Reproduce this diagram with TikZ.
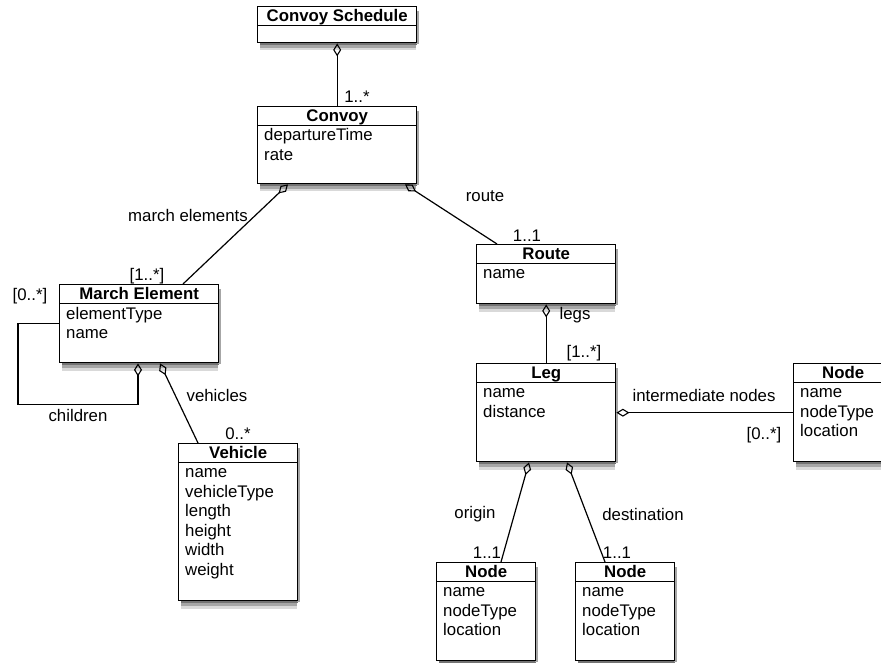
\documentclass[tikz,border=0pt]{standalone}
\usepackage{fontspec}
\setmainfont{Liberation Sans}
\usetikzlibrary{arrows.meta}
\definecolor{shadowdark}{gray}{0.45}
\definecolor{shadowmid}{gray}{0.65}
\definecolor{shadowlight}{gray}{0.85}

\begin{document}
\begin{tikzpicture}[x=1pt, y=-1pt, every node/.style={font=\fontsize{16.8}{19}\selectfont}]

        % Styles for classes and links
        \tikzstyle{classbox} = [draw, line width=1.4pt, fill=white, anchor=north west]
        \tikzstyle{classtitle} = [anchor=base, inner sep=0pt, font=\fontsize{16.8}{19}\selectfont\bfseries]
        \tikzstyle{attr} = [anchor=base west, inner sep=0pt]
        \tikzstyle{divider} = [line width=1.2pt]
        \tikzstyle{aggr} = [{Diamond[open, length=13pt, width=8pt, line width=1.1pt]}-, line width=1.2pt]
        \tikzstyle{lbl} = [inner sep=0pt]

        \useasboundingbox (0,0) rectangle (881,663);

        % Shadows behind the classes
        \foreach \bx/\by/\bw/\bh in {257/6/159/36, 257/106/159/77, 59/284/159/78, 178/443/119/157, 476/244/139/59, 476/363/139/98, 793/363/99/98, 436/562/99/98, 575/562/99/98} {
            \draw[shadowlight, line width=9pt] (\bx+3,\by+\bh+4) -- (\bx+\bw,\by+\bh+4);
            \draw[shadowmid, line width=6pt] (\bx+3,\by+\bh+3) -- (\bx+\bw,\by+\bh+3);
            \draw[shadowdark, line width=3pt] (\bx+3,\by+\bh+1.5) -- (\bx+\bw+1,\by+\bh+1.5);
            \draw[shadowmid, line width=3pt] (\bx+\bw+1.5,\by+5) -- (\bx+\bw+1.5,\by+\bh+2);
        }

        % Convoy Schedule
        \node[classbox, minimum width=159pt, minimum height=36pt] (sched) at (257,6) {};
        \node[classtitle] (sched-t) at ([yshift=-15.5pt]sched.north) {Convoy Schedule};
        \draw[divider] ([yshift=-19.5pt]sched.north west) -- ([yshift=-19.5pt]sched.north east);

        % Convoy
        \node[classbox, minimum width=159pt, minimum height=77pt] (convoy) at (257,106) {};
        \node[classtitle] (convoy-t) at ([yshift=-15.5pt]convoy.north) {Convoy};
        \draw[divider] ([yshift=-19.5pt]convoy.north west) -- ([yshift=-19.5pt]convoy.north east);
        \foreach \a [count=\i from 0] in {departureTime, rate}
            \node[attr] (convoy-\i) at ([xshift=7pt, yshift={-34.5pt-19.6pt*\i}]convoy.north west) {\a};

        % March Element
        \node[classbox, minimum width=159pt, minimum height=78pt] (march) at (59,284) {};
        \node[classtitle] (march-t) at ([yshift=-15.5pt]march.north) {March Element};
        \draw[divider] ([yshift=-19.5pt]march.north west) -- ([yshift=-19.5pt]march.north east);
        \foreach \a [count=\i from 0] in {elementType, name}
            \node[attr] (march-\i) at ([xshift=7pt, yshift={-35pt-19.6pt*\i}]march.north west) {\a};

        % Vehicle
        \node[classbox, minimum width=119pt, minimum height=157pt] (vehicle) at (178,443) {};
        \node[classtitle] (vehicle-t) at ([yshift=-15.5pt]vehicle.north) {Vehicle};
        \draw[divider] ([yshift=-19.5pt]vehicle.north west) -- ([yshift=-19.5pt]vehicle.north east);
        \foreach \a [count=\i from 0] in {name, vehicleType, length, height, width, weight}
            \node[attr] (vehicle-\i) at ([xshift=7pt, yshift={-34.5pt-19.6pt*\i}]vehicle.north west) {\a};

        % Route
        \node[classbox, minimum width=139pt, minimum height=59pt] (route) at (476,244) {};
        \node[classtitle] (route-t) at ([yshift=-15.5pt]route.north) {Route};
        \draw[divider] ([yshift=-19.5pt]route.north west) -- ([yshift=-19.5pt]route.north east);
        \node[attr] (route-0) at ([xshift=7pt, yshift=-35pt]route.north west) {name};

        % Leg
        \node[classbox, minimum width=139pt, minimum height=98pt] (leg) at (476,363) {};
        \node[classtitle] (leg-t) at ([yshift=-15.5pt]leg.north) {Leg};
        \draw[divider] ([yshift=-19.5pt]leg.north west) -- ([yshift=-19.5pt]leg.north east);
        \foreach \a [count=\i from 0] in {name, distance}
            \node[attr] (leg-\i) at ([xshift=7pt, yshift={-34.5pt-19.6pt*\i}]leg.north west) {\a};

        % Nodes
        \node[classbox, minimum width=99pt, minimum height=98pt] (nodeR) at (793,363) {};
        \node[classbox, minimum width=99pt, minimum height=98pt] (nodeO) at (436,562) {};
        \node[classbox, minimum width=99pt, minimum height=98pt] (nodeD) at (575,562) {};
        \foreach \n in {nodeR, nodeO, nodeD} {
            \node[classtitle] (\n-t) at ([yshift=-15.5pt]\n.north) {Node};
            \draw[divider] ([yshift=-19.5pt]\n.north west) -- ([yshift=-19.5pt]\n.north east);
            \foreach \a [count=\i from 0] in {name, nodeType, location}
                \node[attr] (\n-\i) at ([xshift=7pt, yshift={-34.5pt-19.6pt*\i}]\n.north west) {\a};
        }

        % Links
        \draw[aggr] (sched.south) -- (convoy.north);
        \draw[aggr] ([xshift=31pt]convoy.south west) -- ([xshift=124pt]march.north west);
        \draw[aggr] ([xshift=148pt]convoy.south west) -- ([xshift=21pt]route.north west);
        \draw[aggr] (route.south) -- (leg.north);
        \draw[aggr] (leg.east) -- (nodeR.west);
        \draw[aggr] ([xshift=53pt]leg.south west) -- ([xshift=65pt]nodeO.north west);
        \draw[aggr] ([xshift=91pt]leg.south west) -- ([xshift=30pt]nodeD.north west);
        \draw[aggr] ([xshift=101pt]march.south west) -- ([xshift=20pt]vehicle.north west);
        \draw[aggr] ([xshift=79pt]march.south west) -- ++(0,41) -| ([xshift=-41pt]march.west) -- (march.west);

        % Link labels
        \node[lbl] (l-sched) at (357,97) {1..*};
        \node[lbl] (l-march) at (188,215) {march elements};
        \node[lbl] (m-march) at (147,276) {[1..*]};
        \node[lbl] (l-route) at (485,196) {route};
        \node[lbl] (m-route) at (527,236) {1..1};
        \node[lbl] (l-legs) at (575,315) {legs};
        \node[lbl] (m-legs) at (584,353) {[1..*]};
        \node[lbl] (l-inter) at (704,395) {intermediate nodes};
        \node[lbl] (m-inter) at (764,435) {[0..*]};
        \node[lbl] (l-origin) at (475,514) {origin};
        \node[lbl] (m-origin) at (487,553) {1..1};
        \node[lbl] (l-dest) at (643,514) {destination};
        \node[lbl] (m-dest) at (617,553) {1..1};
        \node[lbl] (l-veh) at (217,395) {vehicles};
        \node[lbl] (m-veh) at (238,434) {0..*};
        \node[lbl] (l-child) at (78,415) {children};
        \node[lbl] (m-child) at (30,296) {[0..*]};

    \end{tikzpicture}
\end{document}
